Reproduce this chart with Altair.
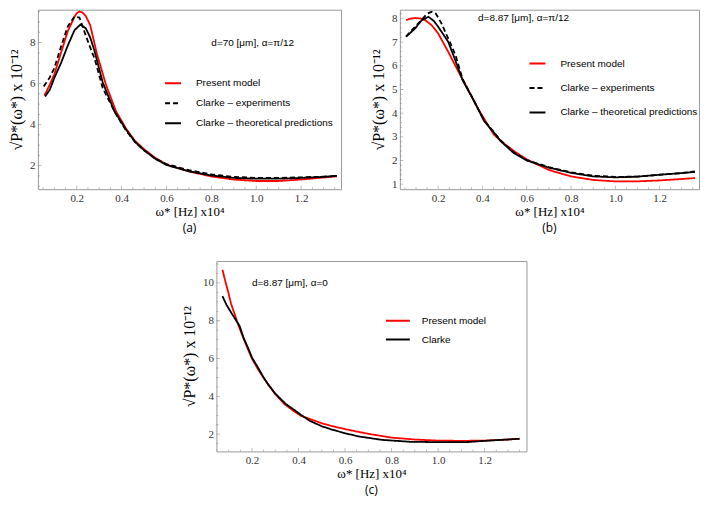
import altair as alt
import pandas as pd

# ---------------- Panel (a): d=70 um, alpha=pi/12 ----------------
a_present_x = [0.056, 0.08, 0.10, 0.13, 0.16, 0.19, 0.20, 0.212, 0.225, 0.24, 0.26, 0.29, 0.33, 0.375, 0.42, 0.46, 0.50, 0.55, 0.60, 0.70, 0.80, 0.90, 1.00, 1.10, 1.20, 1.30, 1.36]
a_present_y = [5.41, 5.95, 6.45, 7.5, 8.55, 9.25, 9.43, 9.51, 9.47, 9.3, 8.85, 7.45, 5.95, 4.65, 3.8, 3.2, 2.8, 2.38, 2.05, 1.72, 1.47, 1.32, 1.25, 1.25, 1.32, 1.42, 1.48]
a_exp_x = [0.053, 0.08, 0.10, 0.13, 0.16, 0.19, 0.212, 0.234, 0.255, 0.28, 0.316, 0.37, 0.42, 0.46, 0.50, 0.55, 0.60, 0.70, 0.80, 0.90, 1.00, 1.10, 1.20, 1.30, 1.36]
a_exp_y = [5.86, 6.3, 6.75, 7.8, 8.78, 9.27, 9.22, 8.54, 7.9, 7.2, 5.78, 4.6, 3.7, 3.15, 2.75, 2.35, 2.07, 1.78, 1.57, 1.45, 1.4, 1.4, 1.43, 1.46, 1.5]
a_theo_x = [0.059, 0.08, 0.10, 0.13, 0.16, 0.19, 0.216, 0.24, 0.26, 0.279, 0.316, 0.368, 0.42, 0.46, 0.50, 0.55, 0.60, 0.70, 0.80, 0.90, 1.00, 1.10, 1.20, 1.30, 1.36]
a_theo_y = [5.37, 5.7, 6.27, 7.0, 7.85, 8.6, 8.87, 8.7, 8.25, 7.6, 6.05, 4.65, 3.75, 3.15, 2.75, 2.33, 2.03, 1.72, 1.52, 1.4, 1.36, 1.36, 1.4, 1.45, 1.5]

# ---------------- Panel (b): d=8.87 um, alpha=pi/12 ----------------
b_present_x = [0.055, 0.075, 0.096, 0.12, 0.141, 0.17, 0.2, 0.245, 0.289, 0.326, 0.378, 0.452, 0.50, 0.55, 0.60, 0.70, 0.80, 0.90, 1.00, 1.10, 1.20, 1.30, 1.36]
b_present_y = [7.93, 7.99, 8.02, 8.0, 7.93, 7.72, 7.37, 6.6, 5.8, 5.15, 4.22, 3.09, 2.7, 2.35, 2.05, 1.6, 1.33, 1.18, 1.12, 1.12, 1.16, 1.22, 1.26]
b_exp_x = [0.055, 0.075, 0.096, 0.126, 0.15, 0.17, 0.19, 0.215, 0.252, 0.28, 0.31, 0.363, 0.408, 0.45, 0.482, 0.541, 0.60, 0.70, 0.80, 0.90, 1.00, 1.10, 1.20, 1.30, 1.36]
b_exp_y = [7.23, 7.45, 7.65, 7.95, 8.2, 8.28, 8.2, 7.79, 7.02, 6.4, 5.45, 4.5, 3.68, 3.22, 2.85, 2.35, 2.02, 1.72, 1.5, 1.36, 1.31, 1.32, 1.4, 1.47, 1.54]
b_theo_x = [0.055, 0.075, 0.096, 0.126, 0.156, 0.18, 0.2, 0.245, 0.274, 0.31, 0.363, 0.408, 0.45, 0.482, 0.541, 0.60, 0.70, 0.80, 0.90, 1.00, 1.10, 1.20, 1.30, 1.36]
b_theo_y = [7.23, 7.4, 7.58, 7.93, 8.07, 7.9, 7.65, 7.02, 6.32, 5.4, 4.5, 3.66, 3.2, 2.82, 2.32, 2.0, 1.7, 1.48, 1.33, 1.29, 1.32, 1.4, 1.47, 1.52]

# ---------------- Panel (c): d=8.87 um, alpha=0 ----------------
c_present_x = [0.073, 0.085, 0.097, 0.11, 0.126, 0.14, 0.154, 0.17, 0.183, 0.2, 0.226, 0.25, 0.269, 0.3, 0.34, 0.38, 0.411, 0.45, 0.5, 0.54, 0.6, 0.7, 0.8, 0.9, 1.0, 1.1, 1.2, 1.3, 1.35]
c_present_y = [10.7, 10.1, 9.56, 8.9, 8.33, 7.82, 7.36, 6.88, 6.48, 6.0, 5.43, 4.98, 4.64, 4.12, 3.59, 3.22, 2.97, 2.8, 2.58, 2.44, 2.27, 2.02, 1.82, 1.72, 1.66, 1.65, 1.66, 1.72, 1.76]
c_clarke_x = [0.073, 0.09, 0.111, 0.13, 0.147, 0.165, 0.183, 0.2, 0.226, 0.25, 0.269, 0.3, 0.345, 0.38, 0.411, 0.45, 0.5, 0.54, 0.6, 0.66, 0.76, 0.88, 1.0, 1.12, 1.2, 1.3, 1.35]
c_clarke_y = [9.3, 8.85, 8.42, 8.05, 7.72, 7.05, 6.57, 6.05, 5.52, 5.0, 4.64, 4.15, 3.6, 3.3, 3.02, 2.7, 2.42, 2.26, 2.05, 1.88, 1.7, 1.6, 1.58, 1.58, 1.65, 1.72, 1.76]

# ---------------- labels / ticks / text ----------------
names3 = ["Present model", "Clarke – experiments", "Clarke – theoretical predictions"]
names2 = ["Present model", "Clarke"]
colors3 = ["#ff0000", "#000000", "#000000"]
colors2 = ["#ff0000", "#000000"]
dashes3 = [[1, 0], [5, 3], [1, 0]]
dashes2 = [[1, 0], [1, 0]]
x_ticks = [0.2, 0.4, 0.6, 0.8, 1.0, 1.2]
x_minor = [0.05, 0.1, 0.15, 0.25, 0.3, 0.35, 0.45, 0.5, 0.55, 0.65, 0.7, 0.75, 0.85, 0.9, 0.95,
           1.05, 1.1, 1.15, 1.25, 1.3, 1.35]
a_yticks = [2, 4, 6, 8]
a_yminor = [1.0, 1.5, 2.5, 3.0, 3.5, 4.5, 5.0, 5.5, 6.5, 7.0, 7.5, 8.5, 9.0, 9.5]
b_yticks = [1, 2, 3, 4, 5, 6, 7, 8]
b_yminor = [1.2, 1.4, 1.6, 1.8, 2.2, 2.4, 2.6, 2.8, 3.2, 3.4, 3.6, 3.8, 4.2, 4.4, 4.6, 4.8,
            5.2, 5.4, 5.6, 5.8, 6.2, 6.4, 6.6, 6.8, 7.2, 7.4, 7.6, 7.8, 8.2]
c_yticks = [2, 4, 6, 8, 10]
c_yminor = [1.5, 2.5, 3.0, 3.5, 4.5, 5.0, 5.5, 6.5, 7.0, 7.5, 8.5, 9.0, 9.5, 10.5, 11.0]
a_note = ["d=70 [μm], α=π/12"]
b_note = ["d=8.87 [μm], α=π/12"]
c_note = ["d=8.87 [μm], α=0"]
a_note_xy = [0.80, 8.0]
b_note_xy = [0.38, 8.0]
c_note_xy = [0.20, 10.0]
x_title = "ω* [Hz] x10⁴"
y_title = "√P*(ω*)   x 10⁻¹²"

SERIF = "Liberation Serif"
SANS = "Liberation Sans"
TICK = "#8a8a8a"


def long_df(series):
    rows = []
    for name, xs, ys in series:
        for i, (xv, yv) in enumerate(zip(xs, ys)):
            rows.append({"series": name, "x": xv, "y": yv, "i": i})
    return pd.DataFrame(rows)


def panel(series, names, colors, dashes, xdom, ydom, yticks, yminor, w, h,
          note, note_xy, leg, caption, sym_shape, sym_size):
    df = long_df(series)
    legend = alt.Legend(
        title=None, orient="none", legendX=leg[0], legendY=leg[1],
        symbolType=sym_shape, symbolSize=sym_size, symbolStrokeWidth=2,
        labelFont=SANS, labelFontSize=10, labelColor="#000000",
        labelOffset=leg[2], rowPadding=leg[3], padding=0,
    )
    xscale = alt.Scale(domain=xdom, nice=False, zero=False)
    yscale = alt.Scale(domain=ydom, nice=False, zero=False)
    xenc = alt.X("x:Q", scale=xscale,
                 axis=alt.Axis(values=x_ticks, format=".1f", title=x_title))
    yenc = alt.Y("y:Q", scale=yscale,
                 axis=alt.Axis(values=yticks, format="d", title=y_title, labelOverlap=False))
    color = alt.Color("series:N", scale=alt.Scale(domain=names, range=colors), legend=legend)
    dash = alt.StrokeDash("series:N", scale=alt.Scale(domain=names, range=dashes), legend=legend)

    layers = []
    for n in names:
        layers.append(
            alt.Chart(df).transform_filter(alt.datum.series == n)
            .mark_line(strokeWidth=1.8, clip=True)
            .encode(x=xenc, y=yenc, color=color, strokeDash=dash, order="i:Q")
        )
    # inward frame ticks (drawn on the bottom / left edges, outer half clipped away)
    xt = pd.DataFrame({"x": x_ticks + x_minor, "y": [ydom[0]] * (len(x_ticks) + len(x_minor)),
                       "major": [1] * len(x_ticks) + [0] * len(x_minor)})
    yt = pd.DataFrame({"x": [xdom[0]] * (len(yticks) + len(yminor)), "y": list(yticks) + yminor,
                       "major": [1] * len(yticks) + [0] * len(yminor)})
    for tdf, orient in ((xt, "vertical"), (yt, "horizontal")):
        layers.append(
            alt.Chart(tdf).mark_tick(orient=orient, thickness=0.8, color=TICK, clip=True)
            .encode(x=xenc, y=yenc,
                    size=alt.Size("major:Q", scale=alt.Scale(domain=[0, 1], range=[4, 7]), legend=None))
        )
    ndf = pd.DataFrame({"x": [note_xy[0]], "y": [note_xy[1]], "t": note})
    txt = alt.Chart(ndf).mark_text(align="left", baseline="middle", font=SANS,
                                   fontSize=10, color="#000000").encode(
        x=xenc, y=yenc, text="t:N")
    layers.append(txt)
    return alt.layer(*layers).properties(
        width=w, height=h,
        title=alt.TitleParams(caption, orient="bottom", font="Open Sans", fontSize=12,
                              fontWeight="normal", color="#000000", frame="group",
                              anchor="middle", offset=5),
    )


pa = panel([(names3[0], a_present_x, a_present_y), (names3[1], a_exp_x, a_exp_y),
            (names3[2], a_theo_x, a_theo_y)],
           names3, colors3, dashes3, [0.027, 1.378], [0.85, 9.6], a_yticks, a_yminor, 304, 180,
           a_note, a_note_xy, [126.5, 64.8, 14, 6], "(a)", "stroke", 256)
pb = panel([(names3[0], b_present_x, b_present_y), (names3[1], b_exp_x, b_exp_y),
            (names3[2], b_theo_x, b_theo_y)],
           names3, colors3, dashes3, [0.027, 1.378], [0.79, 8.37], b_yticks, b_yminor, 300, 180,
           b_note, b_note_xy, [129, 45, 14, 10.5], "(b)", "stroke", 256)
pc = panel([(names2[0], c_present_x, c_present_y), (names2[1], c_clarke_x, c_clarke_y)],
           names2, colors2, dashes2, [0.047, 1.38], [1.09, 11.16], c_yticks, c_yminor, 311, 191,
           c_note, c_note_xy, [173, 51, 15, 4.8], "(c)", "M-1.5,0H1.5", 256)

spacer = alt.Chart(pd.DataFrame({"v": [0]})).mark_point(opacity=0).encode(
    x=alt.value(0), y=alt.value(0)
).properties(width=142, height=10, view=alt.ViewBackground(stroke="transparent"))

res = dict(x="independent", y="independent", color="independent",
           strokeDash="independent", size="independent")
top = alt.hconcat(pa, pb, spacing=28).resolve_scale(**res)
bottom = alt.hconcat(spacer, pc, spacing=0).resolve_scale(**res)
chart = alt.vconcat(top, bottom, spacing=22).resolve_scale(**res).properties(padding=0).configure_view(
    stroke="#9a9a9a", strokeWidth=1
).configure_axis(
    ticks=False, domain=False, grid=False, labelOverlap=False,
    labelFont=SERIF, labelFontSize=11, labelColor="#333333", labelPadding=3,
    titleFont=SERIF, titleFontSize=13, titleFontWeight="normal", titleColor="#000000",
).configure_axisY(titleFontSize=16, titlePadding=5).configure_axisX(titlePadding=2)

chart.save("out.html", embed_options={"renderer": "svg", "actions": False})
